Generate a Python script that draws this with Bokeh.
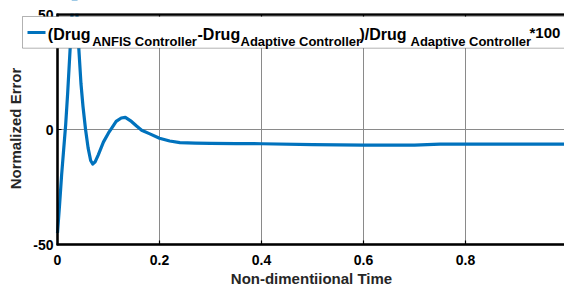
import math
from bokeh.plotting import figure
from bokeh.models import Range1d, Label, BoxAnnotation
from bokeh.embed import file_html
from bokeh.resources import INLINE

# ---- data ----
t = [0.0, 0.004, 0.008, 0.012, 0.016, 0.020, 0.025, 0.029, 0.033, 0.037,
     0.041, 0.046, 0.050, 0.055, 0.060, 0.065, 0.069, 0.074, 0.080, 0.090,
     0.100, 0.106, 0.115, 0.125, 0.133, 0.145, 0.155, 0.165, 0.180, 0.200,
     0.220, 0.240, 0.270, 0.300, 0.350, 0.400, 0.500, 0.600, 0.700, 0.750,
     0.800, 0.900, 0.994]
err = [-45.0, -33.0, -20.0, -9.0, 2.0, 16.0, 36.0, 52.0, 60.0, 55.0,
       38.0, 20.0, 10.0, 0.0, -8.0, -13.5, -15.0, -14.0, -11.0, -5.5,
       -1.5, 0.5, 3.5, 5.0, 5.3, 3.5, 1.5, -0.3, -1.8, -3.8,
       -5.0, -5.7, -5.9, -6.0, -6.1, -6.2, -6.6, -6.8, -6.8, -6.4,
       -6.4, -6.4, -6.4]
x_ticks = [0, 0.2, 0.4, 0.6, 0.8]
x_tick_labels = ["0", "0.2", "0.4", "0.6", "0.8"]
y_ticks = [-50, 0, 50]
y_tick_labels = ["-50", "0", "50"]
x_title = "Non-dimentiional Time"
y_title = "Normalized Error"
legend_pieces = [  # (text, role)
    ("(Drug", "main"), ("ANFIS Controller", "sub"), ("-Drug", "main"),
    ("Adaptive Controller", "sub"), (")/Drug", "main"),
    ("Adaptive Controller", "sub"), ("*100", "sup"),
]

# ---- layout (pixels) ----
W, H = 564, 286
AX_X0 = 57          # pixel column of x = 0
AX_Y0 = 244         # pixel row of y = -50
AX_Y1 = 14          # pixel row of y = 50
PX_PER_X = 510.0
PX_PER_Y = 2.3
X_END = (W - AX_X0) / PX_PER_X
X_START = -AX_X0 / PX_PER_X
Y_LO, Y_HI = -50, 50
Y_BOT = Y_LO - (H - AX_Y0) / PX_PER_Y
Y_TOP = Y_LO + AX_Y0 / PX_PER_Y


def sy(row):  # pixel row (from top) -> screen units (from bottom)
    return H - row


FONT = "Liberation Sans"
BLUE = "#0072BD"
GRID = "#8a8a8a"

p = figure(width=W, height=H, output_backend="svg", toolbar_location=None,
           x_range=Range1d(X_START, X_END), y_range=Range1d(Y_BOT, Y_TOP),
           x_axis_location=None, y_axis_location=None,
           min_border_left=0, min_border_right=0, min_border_top=0,
           min_border_bottom=0)
p.outline_line_color = None
p.background_fill_color = "white"
p.border_fill_color = "white"
p.xgrid.visible = False
p.ygrid.visible = False


def sbox(left, right, bottom, top, fill=None, line=None, lw=1,
         level="overlay"):
    p.add_layout(BoxAnnotation(left=left, right=right, bottom=bottom, top=top,
                               left_units="screen", right_units="screen",
                               bottom_units="screen", top_units="screen",
                               fill_color=fill, fill_alpha=1.0 if fill else 0.0,
                               line_color=line, line_width=lw, level=level))


# axes box drawn under everything
sbox(AX_X0, W + 5, sy(AX_Y0), sy(AX_Y1), fill="white", line="black", lw=2,
     level="underlay")

n_x, n_y = len(x_ticks), len(y_ticks)
hx = 1.0 / PX_PER_X
hy = 1.0 / PX_PER_Y
# grid
p.segment(x0=x_ticks[1:], y0=[Y_LO] * (n_x - 1), x1=x_ticks[1:],
          y1=[Y_HI] * (n_x - 1), line_color=GRID, line_width=1)
p.segment(x0=[0], y0=[0], x1=[X_END], y1=[0], line_color=GRID, line_width=1)

# curve
p.line(t, err, line_color=BLUE, line_width=3.2, line_join="round")

# box edges as glyphs (left + bottom, and top)
p.line(x=[0, 0, X_END], y=[Y_HI, Y_LO, Y_LO], line_color="black",
       line_width=2)
p.line(x=[0, X_END], y=[Y_HI, Y_HI], line_color="black", line_width=2)

# blank area above the axes box
p.add_layout(BoxAnnotation(left=X_START, right=X_END, bottom=Y_HI + hy,
                           top=Y_TOP, fill_color="white", fill_alpha=1.0,
                           line_color=None, level="annotation"))

# box edges as thin filled bars on top
sbox(AX_X0 - 1, AX_X0 + 1, sy(AX_Y0 + 1), sy(AX_Y1 - 1), fill="black")
sbox(AX_X0 - 1, W + 5, sy(AX_Y0 + 1), sy(AX_Y0 - 1), fill="black")
sbox(AX_X0 - 1, W + 5, sy(AX_Y1 + 1), sy(AX_Y1 - 1), fill="black")
# inward ticks
for v in x_ticks[1:]:
    px = AX_X0 + v * PX_PER_X
    sbox(px - 0.6, px + 0.6, sy(AX_Y0), sy(AX_Y0 - 4), fill="black")
    sbox(px - 0.6, px + 0.6, sy(AX_Y1 + 4), sy(AX_Y1), fill="black")
for v in y_ticks[1:-1]:
    py = AX_Y0 - (v - Y_LO) * PX_PER_Y
    sbox(AX_X0, AX_X0 + 4, sy(py + 0.6), sy(py - 0.6), fill="black")


def text(x, y, s, size, xu="screen", yu="screen", align="left",
         baseline="alphabetic", color="black", angle=0.0):
    p.add_layout(Label(x=x, y=y, x_units=xu, y_units=yu, text=s, angle=angle,
                       text_font=FONT, text_font_style="bold",
                       text_font_size=size, text_color=color,
                       text_align=align, text_baseline=baseline,
                       level="overlay"))


# tick labels
for v, s in zip(x_ticks, x_tick_labels):
    text(v, sy(259), s, "14px", xu="data", align="center")
for v, s in zip(y_ticks, y_tick_labels):
    text(AX_X0 - 4, v, s, "14px", yu="data", align="right", baseline="middle")

# axis titles
text(311, sy(278), x_title, "15px", align="center", color="#262626")
text(15, sy(128), y_title, "15px", align="center", baseline="middle",
     color="#262626", angle=math.pi / 2)

# ---- legend drawn by hand (sub-scripted text) ----
sbox(22, W + 10, sy(47.7), sy(16), fill="white", line="black", lw=1)
sbox(27, 45, sy(33.5), sy(30.5), fill=BLUE)

piece_x = [47.3, 91.7, 197, 240, 359, 410, 529]
role_style = {"main": (34.3, "16px"), "sub": (40.7, "13px"), "sup": (32.3, "15px")}
for (txt, role), x in zip(legend_pieces, piece_x):
    base, sz = role_style[role]
    text(x, sy(base), txt, sz)

open("out.html", "w").write(file_html(p, INLINE))
